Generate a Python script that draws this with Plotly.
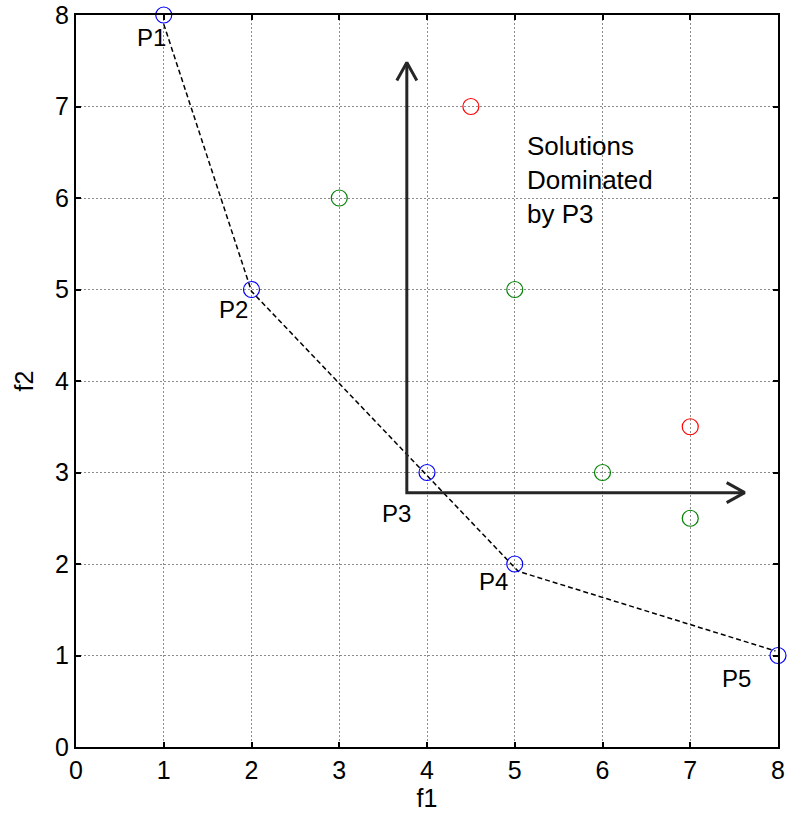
import plotly.graph_objects as go

# Pareto-front points P1..P5
front_x = [1, 2, 4, 5, 8]
front_y = [8, 5, 3, 2, 1]
front_names = ["P1", "P2", "P3", "P4", "P5"]
# label anchor positions (left edge, vertical middle)
label_x = [0.67, 1.61, 3.46, 4.57, 7.34]
label_y = [7.75, 4.78, 2.55, 1.81, 0.75]

# other solutions
green_x = [3, 5, 6, 7]
green_y = [6, 5, 3, 2.5]
red_x = [4.5, 7]
red_y = [7, 3.5]

# dashed front curve
curve_x = [1.0, 2.0, 5.04, 7.97]
curve_y = [7.9, 4.98, 1.92, 1.05]

# dominance arrows: corner, upper tip, right tip
corner = (3.77, 2.78)
up_tip = (3.77, 7.48)
right_tip = (7.62, 2.78)

W, H = 787, 817
ML, MR, MT, MB = 76, 9, 15, 70
XR, YR = [0, 8], [0, 8]
px_x = (W - ML - MR) / (XR[1] - XR[0])
px_y = (H - MT - MB) / (YR[1] - YR[0])
head_back, head_side = 18, 10  # arrowhead size in pixels

FONT = "Liberation Sans, Arial, sans-serif"
fig = go.Figure()

fig.add_trace(go.Scatter(x=curve_x, y=curve_y, mode="lines",
                         line=dict(color="black", width=1.5, dash="5px,3px"),
                         hoverinfo="skip", cliponaxis=False))

# arrow shafts
fig.add_trace(go.Scatter(x=[up_tip[0], corner[0], right_tip[0]],
                         y=[up_tip[1], corner[1], right_tip[1]],
                         mode="lines", line=dict(color="#262626", width=3),
                         hoverinfo="skip"))
# arrowheads (open V)
ub, us = head_back / px_y, head_side / px_x
rb, rs = head_back / px_x, head_side / px_y
fig.add_trace(go.Scatter(
    x=[up_tip[0] - us, up_tip[0], up_tip[0] + us, None,
       right_tip[0] - rb, right_tip[0], right_tip[0] - rb],
    y=[up_tip[1] - ub, up_tip[1], up_tip[1] - ub, None,
       right_tip[1] + rs, right_tip[1], right_tip[1] - rs],
    mode="lines", line=dict(color="#262626", width=3), hoverinfo="skip"))

def circles(x, y, color):
    return go.Scatter(x=x, y=y, mode="markers", cliponaxis=False,
                      marker=dict(symbol="circle-open", size=16,
                                  color=color, line=dict(width=1.2, color=color)))

fig.add_trace(circles(green_x, green_y, "#008000"))
fig.add_trace(circles(red_x, red_y, "#ff0000"))
fig.add_trace(circles(front_x, front_y, "#0000ff"))

for name, lx, ly in zip(front_names, label_x, label_y):
    fig.add_annotation(x=lx, y=ly, text=name, showarrow=False,
                       xanchor="left", yanchor="middle",
                       font=dict(family=FONT, size=24, color="black"))

fig.add_annotation(x=5.12, y=6.2, text="Solutions<br>Dominated<br>by P3",
                   showarrow=False, xanchor="left", yanchor="middle", align="left",
                   font=dict(family=FONT, size=26, color="black"))

axis_common = dict(showline=True, linecolor="black", linewidth=2, mirror="ticks",
                   ticks="inside", ticklen=5, tickwidth=2, tickcolor="black",
                   showgrid=True, gridcolor="#8c8c8c", gridwidth=1, griddash="2px,2px",
                   zeroline=False, dtick=1, automargin=False,
                   tickfont=dict(family=FONT, size=25, color="black"),
                   title_font=dict(family=FONT, size=25, color="black"))

fig.update_xaxes(range=XR, title_text="f1", title_standoff=6, **axis_common)
fig.update_yaxes(range=YR, title_text="f2", title_standoff=14, **axis_common)

fig.update_layout(width=W, height=H, showlegend=False,
                  margin=dict(l=ML, r=MR, t=MT, b=MB),
                  plot_bgcolor="white", paper_bgcolor="white")

fig.write_html("out.html")
